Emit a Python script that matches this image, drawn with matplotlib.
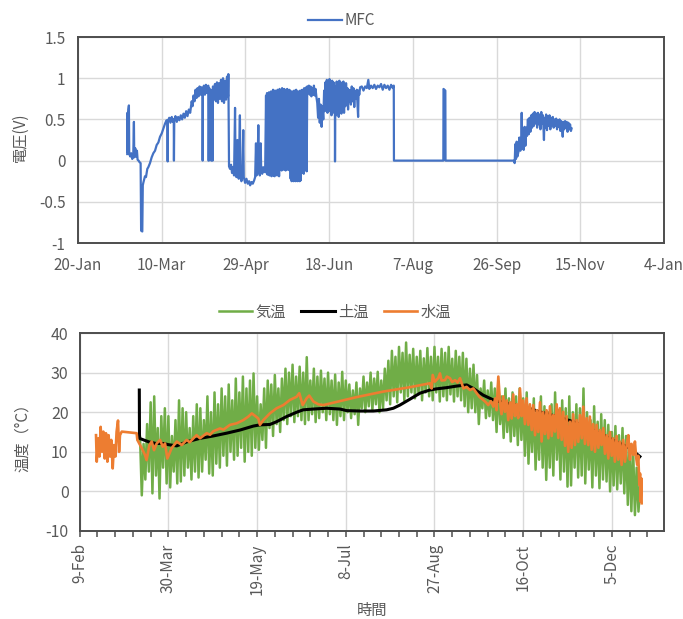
import numpy as np
import matplotlib as mpl
mpl.use("Agg")
import matplotlib.pyplot as plt
import matplotlib.dates as mdates
from matplotlib.ticker import FixedLocator, FuncFormatter

plt.rcParams["font.family"] = ["Noto Sans CJK JP", "DejaVu Sans"]
plt.rcParams["font.size"] = 11
plt.rcParams["axes.unicode_minus"] = False

# =============================================================================
# Data (x = day of year 2020, 0 = 1-Jan)
# =============================================================================
# MFC voltage (V)
mfc = [
    (48.4, 0.08), (48.5, 0.58), (48.8, 0.10), (49.1, 0.62), (49.4, 0.67), (49.6, 0.08),
    (50.2, 0.05), (50.8, 0.09), (51.4, 0.02), (52.0, 0.06), (52.4, 0.47), (52.6, 0.04),
    (53.2, 0.15), (53.6, 0.05), (54.2, 0.12), (54.6, 0.01), (55.2, 0.00), (55.8, -0.02),
    (56.4, -0.03), (56.7, -0.85), (57.4, -0.86), (57.7, -0.30), (58.0, -0.27), (58.6, -0.22),
    (59.0, -0.19), (59.6, -0.20), (60.4, -0.10), (61.0, -0.08), (62.0, -0.03), (63.0, 0.04),
    (64.0, 0.09), (65.0, 0.12), (66.0, 0.19), (67.0, 0.22), (68.0, 0.29), (69.0, 0.33),
    (70.0, 0.39), (71.0, 0.45), (71.9, 0.49), (72.4, 0.47), (72.55, -0.01), (72.7, 0.48),
    (73.5, 0.52), (74.2, 0.46), (75.0, 0.53), (75.6, 0.47), (76.2, 0.50), (76.3, 0.00),
    (76.5, 0.49), (77.2, 0.54), (78.0, 0.47), (78.8, 0.53), (79.6, 0.49), (80.4, 0.55),
    (81.2, 0.50), (82.0, 0.57), (82.8, 0.52), (83.6, 0.60), (84.4, 0.54), (85.2, 0.62),
    (86.0, 0.58), (86.9, 0.72), (87.4, 0.66), (88.0, 0.79), (88.6, 0.72), (89.2, 0.86),
    (89.8, 0.76), (90.4, 0.88), (91.0, 0.78), (91.6, 0.90), (92.2, 0.80), (92.8, 0.89),
    (93.4, 0.78), (93.45, 0.00), (93.6, 0.85), (94.2, 0.91), (94.8, 0.80), (95.4, 0.92),
    (96.0, 0.82), (96.8, 0.91), (96.9, 0.00), (97.2, 0.00), (97.4, 0.88), (98.0, 0.80),
    (98.6, 0.00), (99.0, 0.86), (99.4, 0.00), (99.6, 0.90), (100.2, 0.74), (100.8, 0.93),
    (101.4, 0.72), (102.0, 0.95), (102.6, 0.70), (103.2, 0.94), (103.8, 0.75), (104.4, 0.98),
    (105.0, 0.72), (105.6, 1.00), (106.2, 0.70), (106.8, 0.97), (107.4, 0.74), (108.0, 1.02),
    (108.6, 0.78), (108.8, 1.05), (109.2, -0.07), (109.8, -0.10), (110.4, -0.05), (111.0, -0.15),
    (111.6, -0.08), (112.2, -0.18), (112.8, 0.64), (113.1, -0.12), (113.6, -0.20), (114.2, 0.25),
    (114.5, -0.15), (115.0, -0.22), (115.7, 0.55), (116.0, -0.18), (116.6, -0.25), (117.2, -0.15),
    (117.7, 0.37), (118.0, -0.20), (118.8, -0.27), (119.6, -0.22), (120.4, -0.28), (121.2, -0.25),
    (121.8, -0.30), (122.6, -0.26), (123.4, -0.28), (124.2, -0.24), (124.8, -0.20), (125.3, 0.21),
    (125.6, -0.18), (126.2, -0.15), (126.7, 0.43), (127.0, -0.12), (127.6, -0.18), (128.1, 0.21),
    (128.4, -0.10), (129.0, -0.16), (129.6, -0.08), (130.2, -0.14), (130.8, -0.10), (131.3, 0.79),
    (131.6, -0.15), (131.9, 0.82), (132.2, -0.17), (132.5, 0.80), (132.8, 0.10), (133.1, 0.83),
    (133.4, -0.18), (133.7, 0.78), (134.0, -0.16), (134.3, 0.84), (134.6, -0.19), (134.9, 0.82),
    (135.2, 0.30), (135.5, 0.86), (135.8, -0.18), (136.1, 0.80), (136.4, -0.19), (136.7, 0.85),
    (137.0, -0.15), (137.3, 0.83), (137.6, 0.70), (137.9, -0.18), (138.2, 0.86), (138.5, -0.17),
    (138.8, 0.81), (139.1, -0.19), (139.4, 0.87), (139.7, 0.55), (140.0, -0.10), (140.3, 0.84),
    (140.6, -0.12), (140.9, 0.88), (141.2, -0.09), (141.5, 0.85), (141.8, -0.11), (142.1, 0.87),
    (142.4, 0.20), (142.7, 0.86), (143.0, -0.12), (143.3, 0.82), (143.6, -0.10), (143.9, 0.87),
    (144.2, -0.11), (144.5, 0.84), (144.8, -0.08), (145.1, 0.86), (145.4, -0.12), (145.7, 0.85),
    (146.0, -0.22), (146.3, 0.80), (146.6, -0.25), (146.9, 0.84), (147.2, -0.24), (147.5, 0.78),
    (147.8, -0.25), (148.1, 0.85), (148.4, -0.20), (148.7, 0.82), (149.0, -0.25), (149.3, 0.86),
    (149.6, -0.24), (149.9, 0.80), (150.2, -0.25), (150.5, 0.84), (150.8, -0.22), (151.1, 0.83),
    (151.4, -0.25), (151.7, 0.85), (152.0, -0.24), (152.3, 0.81), (152.6, -0.15), (152.9, 0.86),
    (153.2, -0.14), (153.5, 0.84), (153.8, -0.16), (154.1, 0.88), (154.4, -0.12), (154.7, 0.86),
    (155.0, 0.55), (155.3, 0.89), (155.6, -0.13), (155.9, 0.90), (156.4, 0.82), (156.9, 0.91),
    (157.4, 0.80), (157.9, 0.90), (158.4, 0.78), (158.9, 0.88), (159.4, 0.80), (159.9, 0.91),
    (160.4, 0.79), (160.9, 0.87), (161.4, 0.77), (161.9, 0.70), (162.4, 0.52), (162.9, 0.75),
    (163.4, 0.46), (163.9, 0.68), (164.5, 0.41), (165.0, 0.66), (165.5, 0.50), (166.0, 0.85),
    (166.4, 0.60), (166.8, 0.95), (167.2, 0.62), (167.6, 0.98), (168.0, 0.58), (168.4, 0.96),
    (168.8, 0.65), (169.2, 0.99), (169.6, 0.60), (170.0, 0.94), (170.4, 0.55), (170.8, 0.97),
    (171.2, 0.62), (171.6, 0.95), (172.0, 0.58), (172.4, 0.90), (172.5, -0.01), (172.7, 0.85),
    (173.1, 0.55), (173.5, 0.96), (173.9, 0.60), (174.3, 0.93), (174.7, 0.53), (175.1, 0.97),
    (175.5, 0.62), (175.9, 0.95), (176.3, 0.57), (176.7, 0.92), (177.1, 0.65), (177.5, 0.96),
    (177.9, 0.58), (178.3, 0.90), (178.7, 0.66), (179.1, 0.94), (179.5, 0.70), (179.9, 0.88),
    (180.3, 0.62), (180.7, 0.86), (181.1, 0.72), (181.5, 0.85), (182.0, 0.68), (182.5, 0.90),
    (183.0, 0.72), (183.5, 0.88), (184.0, 0.65), (184.5, 0.84), (185.0, 0.75), (185.5, 0.86),
    (186.3, 0.53), (186.6, 0.85), (187.0, 0.80), (187.5, 0.89), (188.5, 0.90), (189.5, 0.85),
    (190.5, 0.90), (191.5, 0.88), (192.4, 0.98), (193.0, 0.87), (194.0, 0.91), (195.0, 0.88),
    (196.0, 0.92), (197.0, 0.87), (198.0, 0.91), (199.0, 0.89), (200.0, 0.93), (201.0, 0.86),
    (202.0, 0.92), (203.0, 0.88), (204.0, 0.91), (205.0, 0.86), (206.0, 0.92), (207.0, 0.88),
    (207.6, 0.91), (207.7, 0.00), (237.2, 0.00), (237.3, 0.87), (238.4, 0.85), (238.5, 0.00),
    (279.4, 0.00), (279.8, -0.03), (280.2, 0.20), (280.6, 0.02), (281.0, 0.23), (281.4, 0.05),
    (282.0, 0.10), (282.6, 0.28), (283.2, 0.12), (283.8, 0.30), (284.0, 0.58), (284.3, 0.15),
    (284.8, 0.38), (285.2, 0.13), (285.7, 0.41), (286.2, 0.18), (286.7, 0.40), (287.2, 0.30),
    (287.7, 0.50), (288.2, 0.32), (288.7, 0.52), (289.2, 0.35), (289.7, 0.55), (290.2, 0.40),
    (290.7, 0.57), (291.2, 0.42), (291.7, 0.59), (292.2, 0.45), (292.7, 0.57), (293.2, 0.40),
    (293.7, 0.58), (294.2, 0.44), (294.7, 0.56), (295.2, 0.38), (295.7, 0.59), (296.2, 0.45),
    (296.7, 0.55), (297.3, 0.25), (297.6, 0.52), (298.1, 0.40), (298.6, 0.56), (299.1, 0.37),
    (299.6, 0.54), (300.1, 0.42), (300.6, 0.55), (301.1, 0.38), (301.6, 0.52), (302.1, 0.43),
    (302.6, 0.53), (303.1, 0.40), (303.6, 0.50), (304.1, 0.42), (304.6, 0.51), (305.1, 0.38),
    (305.6, 0.49), (306.1, 0.41), (306.6, 0.50), (307.1, 0.36), (307.6, 0.48), (308.1, 0.40),
    (308.5, 0.29), (308.9, 0.47), (309.4, 0.38), (309.9, 0.48), (310.4, 0.40), (310.9, 0.47),
    (311.4, 0.35), (311.9, 0.46), (312.4, 0.38), (312.9, 0.44), (313.4, 0.36), (313.8, 0.39),
]

# Air temperature: low / high per 2-day step starting at day 72
air_start = 72
air_lo = [13, -1, 3, 5, -0.5, 4, -1.8, 6, 2, 1,
          5, 2, 2.5, 4, 6, 3, 5, 3.5, 5, 8,
          4.5, 4, 7, 6, 9, 6.5, 10, 8, 9, 11,
          7.5, 10, 9, 11, 10.5, 13, 11, 16, 14, 17,
          15, 18, 17, 19, 17.5, 19, 18, 17, 18, 19.5,
          17.5, 18.5, 20, 18, 19.5, 18, 16.8, 19, 18, 20,
          18.5, 19.5, 16.8, 21, 20, 21.5, 20.5, 22, 20, 21,
          23, 22, 24, 22.5, 25, 23, 24, 25, 23.5, 24.5,
          23, 25, 24, 23, 25, 22.7, 24, 23, 24.5, 22.7,
          24, 23, 21.5, 20, 21, 20, 17, 21, 18.5, 19,
          18, 15, 17, 13.5, 15, 12.6, 14, 11.7, 13, 9,
          7, 10, 5.5, 8, 6, 2.9, 6, 4, 8, 3,
          5, 1.2, 1.5, 6, 3.5, 4, 2, 5.5, 1, 4,
          0.8, 3, 2.5, 0, 1.5, 0.5, 2, -0.5, -3.4, -5,
          -6, -5.1]
air_hi = [14, 12, 17, 22.5, 24, 16, 19, 21, 19, 14,
          18, 23, 21, 20, 16, 19, 22, 21, 18, 24,
          20, 25, 22, 26, 24, 27, 23, 28.5, 25, 29,
          26, 28, 29.8, 24, 22, 26, 28, 27, 29.4, 26,
          28.5, 31, 30, 32, 29, 31.5, 30, 33.9, 28, 31,
          29, 30.5, 28.5, 30, 28, 29.5, 27.5, 30.2, 28, 27,
          25.5, 27.5, 26, 29, 27.5, 30, 28.5, 30.2, 28, 31,
          33, 35.5, 34, 36.5, 35, 37.6, 34.5, 36, 34, 35.5,
          33.6, 36.2, 34, 36.5, 34, 36, 35, 36.5, 33.5, 35.5,
          34, 35, 33.5, 31, 32, 29.4, 26, 28, 25.5, 27.5,
          26, 27.7, 24, 26, 23.5, 25, 24, 26, 23.5, 25,
          21, 23.5, 20, 24, 21.5, 20, 22, 25, 20.5, 23,
          21, 24, 20, 22, 21, 26, 20, 18, 21.5, 17.6,
          19.5, 18, 16.8, 15, 16.5, 14.2, 16, 14, 12, 10.5,
          6, 2]

# Soil temperature
soil = [
    (72.6, 25.6), (72.7, 13.4), (75, 13.0), (78, 12.5), (82, 12.1), (86, 12.1), (89, 11.8),
    (93.7, 11.5), (99.3, 12.5), (106.8, 13.4), (114.3, 14.0), (121.8, 14.7), (129.4, 15.5),
    (136.9, 16.5), (140.6, 16.8), (146.2, 16.9), (150, 17.6), (155.6, 18.9), (161.3, 20.0),
    (165, 20.6), (170.7, 20.8), (178.2, 21.0), (185.7, 20.8), (189.5, 20.4), (197, 20.3),
    (204.5, 20.3), (212, 20.6), (215.8, 21.0), (219.5, 21.8), (225.2, 23.3), (230.8, 24.8),
    (236.4, 25.6), (240.2, 25.9), (245.8, 26.2), (251.5, 26.6), (257.1, 26.9), (260.9, 26.0),
    (266.5, 24.3), (272.2, 23.1), (279.7, 22.2), (289.1, 21.4), (298.5, 20.1), (307.9, 18.9),
    (317.3, 17.6), (326.7, 15.9), (336, 13.8), (343.6, 12.1), (349.2, 10.9), (354.8, 8.8),
]

# Water temperature
water = [
    (48.2, 14.2), (48.6, 7.5), (49.5, 13.4), (50.1, 8.8), (50.8, 16.3), (51.6, 10.0),
    (52.3, 15.1), (53.1, 8.3), (53.8, 14.7), (54.6, 7.5), (55.3, 14.2), (56.1, 8.8),
    (56.8, 13.0), (57.6, 5.8), (58.3, 11.7), (59.1, 8.8), (59.8, 15.1), (60.6, 17.9),
    (61.2, 10.0), (61.7, 14.2), (62.7, 15.1), (71.1, 14.7), (71.5, 13.0), (72.6, 12.1),
    (74.0, 10.9), (75.8, 9.2), (76.7, 7.9), (78.3, 11.7), (79.6, 12.6), (80.9, 10.4),
    (82.4, 12.1), (84.3, 13.0), (85.8, 11.3), (87.1, 12.1), (88.4, 8.3), (90.8, 10.9),
    (93.7, 12.6), (96.5, 11.7), (99.3, 13.0), (101.0, 12.4), (103.1, 13.4), (104.9, 14.2),
    (106.8, 13.4), (110.6, 14.7), (112.5, 14.3), (114.3, 15.2), (118.1, 15.9), (120.0, 15.6),
    (123.7, 16.8), (127.5, 17.2), (131.2, 18.0), (134.1, 18.9), (136.0, 19.7), (137.8, 19.1),
    (139.7, 18.4), (140.6, 16.8), (142.5, 18.0), (146.2, 19.7), (150.0, 21.0), (153.8, 21.8),
    (157.5, 23.1), (161.3, 23.9), (162.8, 24.8), (164.7, 21.8), (166.9, 23.5), (168.4, 24.2),
    (170.7, 22.7), (173.5, 22.0), (176.3, 21.8), (180.1, 22.2), (195.0, 23.8), (210.0, 25.2),
    (225.0, 26.3), (236.4, 27.3), (237.4, 26.0), (238.0, 29.4), (239.2, 27.7), (241.1, 28.6),
    (242.1, 29.8), (243.0, 28.0), (244.9, 28.1), (246.0, 29.0), (247.7, 28.6), (249.0, 27.6),
    (250.6, 28.1), (252.0, 27.5), (253.4, 28.6), (255.3, 26.0), (257.1, 26.4), (259.0, 25.6),
    (260.9, 26.0), (262.8, 24.8), (264.5, 23.8), (266.5, 23.1), (268.0, 22.5), (269.3, 21.8),
    (270.8, 22.8), (272.2, 21.4), (273.2, 23.5), (274.0, 20.5), (275.0, 29.0), (275.9, 22.7),
    (276.8, 19.5), (277.8, 24.0), (278.7, 20.1), (279.7, 23.0), (280.6, 18.0), (281.6, 22.5),
    (282.5, 18.4), (283.4, 24.5), (284.4, 19.0), (285.3, 22.0), (286.2, 18.5), (287.2, 26.0),
    (288.1, 19.0), (289.0, 23.0), (290.0, 17.0), (290.9, 23.5), (291.9, 16.8), (292.8, 22.0),
    (293.8, 15.5), (294.7, 21.8), (295.7, 14.2), (296.6, 20.5), (297.5, 15.0), (298.5, 22.5),
    (299.4, 12.6), (300.3, 20.0), (301.3, 14.5), (302.2, 20.5), (303.2, 13.4), (304.1, 21.5),
    (305.1, 14.0), (306.0, 19.3), (306.9, 15.1), (307.9, 22.0), (308.8, 13.5), (309.7, 21.0),
    (310.7, 13.0), (311.6, 20.1), (312.6, 11.5), (313.5, 19.0), (314.4, 10.0), (315.4, 17.6),
    (316.3, 11.0), (317.2, 19.5), (318.2, 11.7), (319.1, 18.0), (320.1, 12.5), (321.0, 19.3),
    (322.0, 13.4), (322.9, 21.4), (323.8, 12.0), (324.8, 18.5), (325.7, 11.7), (326.6, 18.9),
    (327.6, 10.5), (328.5, 17.0), (329.5, 10.0), (330.4, 16.8), (331.4, 11.0), (332.3, 15.5),
    (333.2, 11.7), (334.2, 16.0), (335.1, 9.5), (336.1, 14.2), (337.0, 8.3), (337.9, 15.0),
    (338.9, 9.0), (339.8, 13.4), (340.7, 7.5), (341.7, 14.0), (342.6, 8.0), (343.5, 12.6),
    (344.5, 6.7), (345.4, 13.0), (346.4, 7.5), (347.3, 11.7), (348.3, 14.2), (349.2, 8.0),
    (350.1, 12.0), (351.1, 9.2), (352.0, 12.6), (352.7, 8.5), (353.3, 6.7), (353.9, 9.0),
    (354.5, 1.6), (354.9, 4.5), (355.2, -2.6), (355.6, 3.3), (355.8, -3.0),
]

legend_top = ["MFC"]
legend_bottom = ["気温", "土温", "水温"]

# =============================================================================
# Helpers
# =============================================================================
BASE = mdates.date2num(np.datetime64("2020-01-01"))


def to_num(days):
    return BASE + np.asarray(days, dtype=float)


def split(pairs):
    arr = np.array(pairs, dtype=float)
    return to_num(arr[:, 0]), arr[:, 1]


GRID = "#d9d9d9"
FRAME = "#4d4d4d"
TXT = "#595959"
BLUE = "#4472C4"
GREEN = "#70AD47"
ORANGE = "#ED7D31"


def style_axes(ax):
    for s in ax.spines.values():
        s.set_color(FRAME)
        s.set_linewidth(1.4)
    ax.grid(True, which="major", color=GRID, linewidth=1.0)
    ax.set_axisbelow(True)
    ax.tick_params(colors=TXT, labelcolor=TXT, labelsize=11)


fig = plt.figure(figsize=(6.83, 6.19), dpi=100)

# ---------------- top: MFC voltage ----------------
ax1 = fig.add_axes([0.1142, 0.6074, 0.858, 0.3328])
x, y = split(mfc)
ax1.plot(x, y, color=BLUE, lw=1.6, label=legend_top[0])
t0 = np.datetime64("2020-01-20")
top_ticks = mdates.date2num(t0 + np.arange(8) * np.timedelta64(50, "D"))
ax1.set_xlim(top_ticks[0], top_ticks[-1])
ax1.xaxis.set_major_locator(FixedLocator(top_ticks))
ax1.xaxis.set_major_formatter(mdates.DateFormatter("%-d-%b"))
ax1.set_ylim(-1, 1.5)
ax1.yaxis.set_major_locator(FixedLocator([-1, -0.5, 0, 0.5, 1, 1.5]))
ax1.yaxis.set_major_formatter(FuncFormatter(lambda v, p: f"{v:g}"))
style_axes(ax1)
ax1.tick_params(axis="both", length=0)
ax1.tick_params(axis="x", pad=10)
ax1.tick_params(axis="y", pad=9)
fig.legend(*ax1.get_legend_handles_labels(), loc="center", bbox_to_anchor=(0.5, 0.967),
           frameon=False, handlelength=2.2, handletextpad=0.2, fontsize=11,
           labelcolor=TXT)
fig.text(20 / 683, 1 - 137 / 619, "電圧(V)", rotation=90, ha="center", va="center",
         color=TXT, fontsize=11)

# ---------------- bottom: temperatures ----------------
ax2 = fig.add_axes([0.1167, 0.1422, 0.8555, 0.3198])
ad = to_num(air_start + np.arange(len(air_lo)) * 2)
ax_x = np.column_stack([ad, ad + 1]).ravel()
ax_y = np.column_stack([air_lo, air_hi]).ravel()
ax2.plot(ax_x, ax_y, color=GREEN, lw=1.8, label=legend_bottom[0])
x, y = split(soil)
ax2.plot(x, y, color="black", lw=2.2, label=legend_bottom[1])
x, y = split(water)
ax2.plot(x, y, color=ORANGE, lw=1.9, label=legend_bottom[2])

b0 = np.datetime64("2020-02-09")
bot_ticks = mdates.date2num(b0 + np.arange(7) * np.timedelta64(50, "D"))
minor_ticks = mdates.date2num(b0 + np.arange(33) * np.timedelta64(10, "D"))
ax2.set_xlim(bot_ticks[0], bot_ticks[0] + 329.4)
ax2.xaxis.set_major_locator(FixedLocator(bot_ticks))
ax2.xaxis.set_minor_locator(FixedLocator(minor_ticks))
ax2.xaxis.set_major_formatter(mdates.DateFormatter("%-d-%b"))
ax2.set_ylim(-10, 40)
ax2.yaxis.set_major_locator(FixedLocator(np.arange(-10, 41, 10)))
style_axes(ax2)
ax2.tick_params(axis="y", length=0, pad=8, labelsize=11.5)
ax2.tick_params(axis="x", which="both", direction="out", length=4, width=1.1,
                color=FRAME, pad=5)
for lab in ax2.get_xticklabels():
    lab.set_rotation(90)
fig.legend(*ax2.get_legend_handles_labels(), loc="center", bbox_to_anchor=(0.49, 0.496),
           ncol=3, frameon=False, handlelength=2.2, handletextpad=0.2, columnspacing=1.0,
           fontsize=11, labelcolor=TXT)
fig.text(22 / 683, 1 - 434 / 619, "温度（°C）", rotation=90, ha="center", va="center",
         color=TXT, fontsize=11)
fig.text(372 / 683, 1 - 610 / 619, "時間", ha="center", va="center", color=TXT,
         fontsize=11)

fig.savefig("out.png", dpi=100)
plt.close(fig)
